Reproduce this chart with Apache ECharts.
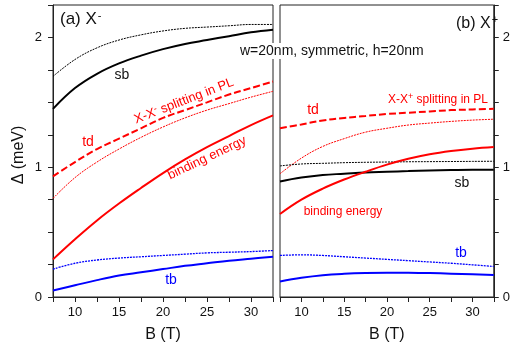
<!DOCTYPE html>
<html>
<head>
<meta charset="utf-8">
<script src="https://cdn.jsdelivr.net/npm/echarts@6/dist/echarts.min.js"></script>
<style>
  html, body { margin: 0; padding: 0; background: #fff; }
  #chart { width: 513px; height: 348px; }
</style>
</head>
<body>
<div id="chart"></div>
<script>
// magnetic field B (T)
var fieldB = [7.5, 10, 12.5, 15, 17.5, 20, 22.5, 25, 27.5, 30, 32.5];

// (a) X-  panel
var sbDotA   = [1.70, 1.83, 1.92, 1.98, 2.02, 2.05, 2.07, 2.08, 2.09, 2.10, 2.10];
var sbA      = [1.45, 1.61, 1.72, 1.80, 1.86, 1.91, 1.95, 1.98, 2.01, 2.04, 2.06];
var tdA      = [0.93, 1.04, 1.14, 1.22, 1.30, 1.38, 1.44, 1.50, 1.56, 1.61, 1.66];
var tdDotA   = [0.76, 0.92, 1.04, 1.14, 1.23, 1.31, 1.38, 1.44, 1.49, 1.54, 1.585];
var bindA    = [0.29, 0.445, 0.59, 0.72, 0.84, 0.955, 1.06, 1.155, 1.24, 1.325, 1.40];
var tbDotA   = [0.215, 0.26, 0.285, 0.30, 0.31, 0.32, 0.33, 0.34, 0.345, 0.35, 0.358];
var tbA      = [0.05, 0.09, 0.13, 0.165, 0.19, 0.215, 0.24, 0.26, 0.28, 0.295, 0.31];

// (b) X+  panel
var tdB      = [1.30, 1.33, 1.36, 1.38, 1.395, 1.41, 1.42, 1.43, 1.44, 1.445, 1.45];
var tdDotB   = [0.95, 1.07, 1.16, 1.22, 1.27, 1.30, 1.325, 1.34, 1.353, 1.363, 1.37];
var sbDotB   = [1.01, 1.025, 1.03, 1.035, 1.038, 1.04, 1.042, 1.043, 1.044, 1.045, 1.046];
var sbB      = [0.89, 0.92, 0.94, 0.95, 0.96, 0.965, 0.97, 0.975, 0.978, 0.98, 0.98];
var bindB    = [0.64, 0.75, 0.835, 0.905, 0.965, 1.02, 1.065, 1.10, 1.125, 1.143, 1.156];
var tbDotB   = [0.32, 0.325, 0.32, 0.31, 0.30, 0.29, 0.28, 0.27, 0.26, 0.248, 0.235];
var tbB      = [0.12, 0.148, 0.168, 0.179, 0.185, 0.187, 0.186, 0.184, 0.18, 0.175, 0.169];

var FONT = 'Liberation Sans, Arial, sans-serif';

function pairs(ys) {
  return fieldB.map(function (b, i) { return [b, ys[i]]; });
}

function curve(ys, idx, color, width, type) {
  return {
    type: 'line',
    xAxisIndex: idx,
    yAxisIndex: idx,
    data: pairs(ys),
    smooth: 0.4,
    symbol: 'none',
    lineStyle: { color: color, width: width, type: type }
  };
}

function xAxisFor(idx) {
  return {
    type: 'value',
    gridIndex: idx,
    min: 7.5,
    max: 32.5,
    interval: 2.5,
    name: 'B (T)',
    nameLocation: 'middle',
    nameGap: 30,
    nameTextStyle: { fontFamily: FONT, fontSize: 16, color: '#111' },
    axisLine: { lineStyle: { color: '#222', width: 1 } },
    axisTick: { length: 5, lineStyle: { color: '#222' } },
    axisLabel: {
      fontFamily: FONT, fontSize: 13, color: '#111', margin: 9,
      formatter: function (v) { return v % 5 === 0 ? String(v) : ''; }
    },
    splitLine: { show: false }
  };
}

function yAxisFor(idx, pos, gap) {
  return {
    type: 'value',
    gridIndex: idx,
    position: pos,
    min: 0,
    max: 2.25,
    interval: 0.25,
    axisLine: { show: true, lineStyle: { color: '#222', width: 1 } },
    axisTick: { show: true, length: 5, lineStyle: { color: '#222' } },
    axisLabel: {
      fontFamily: FONT, fontSize: 13, color: '#111', margin: gap,
      formatter: function (v) { return v % 1 === 0 ? String(v) : ''; }
    },
    splitLine: { show: false }
  };
}

var chart = echarts.init(document.getElementById('chart'), null, { renderer: 'canvas' });

var option = {
  animation: false,
  backgroundColor: '#fff',
  grid: [
    { left: 53, top: 5, width: 220, height: 293, show: true, borderColor: '#222', borderWidth: 1, backgroundColor: 'transparent' },
    { left: 280, top: 5, width: 220, height: 293, show: true, borderColor: '#222', borderWidth: 1, backgroundColor: 'transparent' }
  ],
  xAxis: [xAxisFor(0), xAxisFor(1)],
  yAxis: [yAxisFor(0, 'left', 11), yAxisFor(1, 'right', 9)],
  series: [
    curve(sbDotA, 0, '#000', 1, [2, 1]),
    curve(sbA, 0, '#000', 2, 'solid'),
    curve(tdA, 0, '#ff0000', 2, [7, 3]),
    curve(tdDotA, 0, '#ff0000', 1, [2, 1]),
    curve(bindA, 0, '#ff0000', 2, 'solid'),
    curve(tbDotA, 0, '#0000ff', 1.3, [2, 1]),
    curve(tbA, 0, '#0000ff', 2, 'solid'),

    curve(tdB, 1, '#ff0000', 2, [7, 3]),
    curve(tdDotB, 1, '#ff0000', 1, [2, 1]),
    curve(sbDotB, 1, '#000', 1, [2, 1]),
    curve(sbB, 1, '#000', 2, 'solid'),
    curve(bindB, 1, '#ff0000', 2, 'solid'),
    curve(tbDotB, 1, '#0000ff', 1.3, [2, 1]),
    curve(tbB, 1, '#0000ff', 2, 'solid')
  ],
  graphic: [
    {
      type: 'text', left: 60, top: 10, z: 50,
      style: {
        text: '{m|(a) X}{s|-}',
        rich: {
          m: { fontFamily: FONT, fontSize: 17, fill: '#111' },
          s: { fontFamily: FONT, fontSize: 11, fill: '#111', verticalAlign: 'top', padding: [0, 0, 8, 1] }
        }
      }
    },
    {
      type: 'text', left: 456, top: 14, z: 50,
      style: {
        text: '{m|(b) X}{s|+}',
        rich: {
          m: { fontFamily: FONT, fontSize: 16, fill: '#111' },
          s: { fontFamily: FONT, fontSize: 11, fill: '#111', verticalAlign: 'top', padding: [0, 0, 8, 1] }
        }
      }
    },
    {
      type: 'text', left: 238, top: 43, z: 100,
      style: {
        text: 'w=20nm, symmetric, h=20nm',
        fontFamily: FONT, fontSize: 14, fill: '#111',
        backgroundColor: '#fff', padding: [1, 2, 1, 2]
      }
    },
    {
      type: 'text', x: 19, y: 155, rotation: Math.PI / 2, z: 50,
      style: {
        text: 'Δ (meV)', fontFamily: FONT, fontSize: 16, fill: '#111',
        align: 'center', verticalAlign: 'middle'
      }
    },
    // panel (a) labels
    { type: 'text', x: 122, y: 75, z: 50, style: { text: 'sb', fontFamily: FONT, fontSize: 14, fill: '#111', align: 'center', verticalAlign: 'middle' } },
    { type: 'text', x: 88, y: 142, z: 50, style: { text: 'td', fontFamily: FONT, fontSize: 14, fill: '#ff0000', align: 'center', verticalAlign: 'middle' } },
    { type: 'text', x: 171, y: 280, z: 50, style: { text: 'tb', fontFamily: FONT, fontSize: 14, fill: '#0000ff', align: 'center', verticalAlign: 'middle' } },
    {
      type: 'text', x: 184, y: 101, rotation: 0.37, z: 50,
      style: {
        text: '{m|X-X}{s|-}{m| splitting in PL}', align: 'center', verticalAlign: 'middle',
        rich: {
          m: { fontFamily: FONT, fontSize: 13, fill: '#ff0000' },
          s: { fontFamily: FONT, fontSize: 9, fill: '#ff0000', verticalAlign: 'top', padding: [0, 0, 6, 0] }
        }
      }
    },
    {
      type: 'text', x: 207, y: 158, rotation: 0.44, z: 50,
      style: { text: 'binding energy', fontFamily: FONT, fontSize: 13, fill: '#ff0000', align: 'center', verticalAlign: 'middle' }
    },
    // panel (b) labels
    { type: 'text', x: 313, y: 110, z: 50, style: { text: 'td', fontFamily: FONT, fontSize: 14, fill: '#ff0000', align: 'center', verticalAlign: 'middle' } },
    { type: 'text', x: 462, y: 183, z: 50, style: { text: 'sb', fontFamily: FONT, fontSize: 14, fill: '#111', align: 'center', verticalAlign: 'middle' } },
    { type: 'text', x: 461, y: 253, z: 50, style: { text: 'tb', fontFamily: FONT, fontSize: 14, fill: '#0000ff', align: 'center', verticalAlign: 'middle' } },
    { type: 'text', x: 343, y: 212, z: 50, style: { text: 'binding energy', fontFamily: FONT, fontSize: 12, fill: '#ff0000', align: 'center', verticalAlign: 'middle' } },
    {
      type: 'text', x: 438, y: 100, z: 50,
      style: {
        text: '{m|X-X}{s|+}{m| splitting in PL}', align: 'center', verticalAlign: 'middle',
        rich: {
          m: { fontFamily: FONT, fontSize: 12, fill: '#ff0000' },
          s: { fontFamily: FONT, fontSize: 9, fill: '#ff0000', verticalAlign: 'top', padding: [0, 0, 6, 0] }
        }
      }
    }
  ]
};

chart.setOption(option);
</script>
</body>
</html>
